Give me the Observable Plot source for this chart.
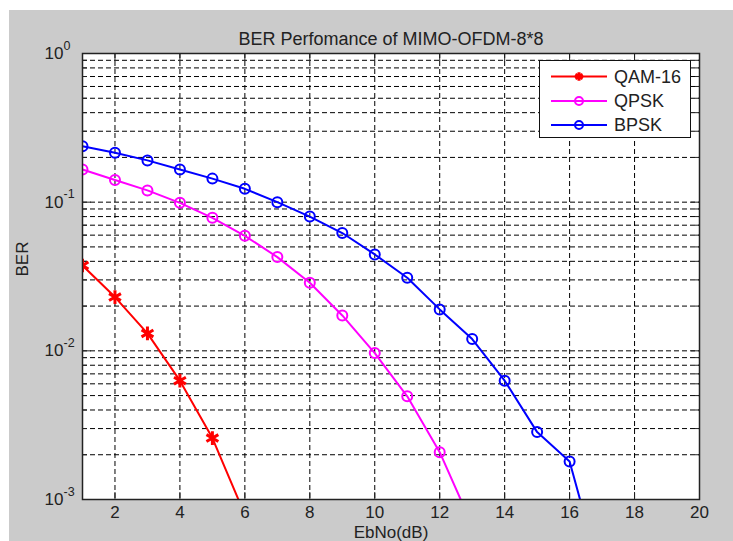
<!DOCTYPE html>
<html>
<head>
<meta charset="utf-8">
<script src="https://cdn.jsdelivr.net/npm/d3@7"></script>
<script src="https://cdn.jsdelivr.net/npm/@observablehq/plot@0.6"></script>
<style>
  html, body { margin: 0; padding: 0; background: #ffffff; }
  #wrap { position: relative; width: 733px; height: 541px; overflow: hidden; font-family: "Liberation Sans", Arial, sans-serif; }
  #bg { position: absolute; left: 9px; top: 10px; right: 0; bottom: 0; background: #cbcbcb; }
  #chart { position: absolute; left: 0; top: 0; }
  #legend { position: absolute; left: 539px; top: 60px; width: 150px; height: 76px; background: #fff; border: 1.5px solid #111; box-sizing: content-box; }
  #legend svg { display: block; }
</style>
</head>
<body>
<div id="wrap">
  <div id="bg"></div>
  <div id="chart"></div>
  <div id="legend"></div>
</div>
<script>
// ---- data ----
const ebno = [1, 2, 3, 4, 5, 6, 7, 8, 9, 10, 11, 12, 13, 14, 15, 16, 17];
const qam16 = [0.0375, 0.023, 0.0131, 0.0063, 0.00259, 0.00079];
const qpsk  = [0.166, 0.141, 0.120, 0.099, 0.0785, 0.0594, 0.0427, 0.0287, 0.0173, 0.00966, 0.00494, 0.00208, 0.00067];
const bpsk  = [0.238, 0.215, 0.191, 0.166, 0.144, 0.123, 0.100, 0.080, 0.062, 0.0445, 0.031, 0.019, 0.012, 0.0063, 0.00284, 0.0018, 0.00029];
const seriesNames  = ["QAM-16", "QPSK", "BPSK"];
const seriesColors = ["#ff0000", "#ff00ff", "#0000ff"];
const seriesSymbols = ["asterisk", "circle", "circle"];
const xTicks = [2, 4, 6, 8, 10, 12, 14, 16, 18, 20];
const xGrid = [2, 4, 6, 8, 10, 12, 14, 16, 18];
const yMajor = [0.001, 0.01, 0.1, 1];
const yExp = ["-3", "-2", "-1", "0"];
const yMinor = [0.002,0.003,0.004,0.005,0.006,0.007,0.008,0.009,
                0.02,0.03,0.04,0.05,0.06,0.07,0.08,0.09,
                0.2,0.3,0.4,0.5,0.6,0.7,0.8,0.9];
const titleText = "BER Perfomance of MIMO-OFDM-8*8";
const xLabel = "EbNo(dB)";
const yLabel = "BER";

// ---- build table ----
const seriesValues = [qam16, qpsk, bpsk];
const rows = [];
seriesNames.forEach((name, i) => {
  seriesValues[i].forEach((v, j) => rows.push({series: name, x: ebno[j], y: v}));
});
const yGridAll = yMajor.concat(yMinor);

const marks = [
  Plot.frame({fill: "#ffffff", stroke: "none"}),
  Plot.ruleY(yGridAll, {y: d => d, stroke: "#000", strokeWidth: 1, strokeDasharray: "5,3"}),
  Plot.ruleX(xGrid, {x: d => d, stroke: "#000", strokeWidth: 1, strokeDasharray: "5,3"}),
];

// inward tick marks
if (Plot.axisX) {
  marks.push(
    Plot.axisX(xTicks, {anchor: "bottom", tickSize: 7, dy: -7, fill: "none", stroke: "#222", label: null}),
    Plot.axisX(xTicks, {anchor: "top", tickSize: 7, dy: 7, fill: "none", stroke: "#222", label: null}),
    Plot.axisY(yMajor, {anchor: "left", tickSize: 9, dx: 9, fill: "none", stroke: "#222", label: null}),
    Plot.axisY(yMajor, {anchor: "right", tickSize: 9, dx: -9, fill: "none", stroke: "#222", label: null}),
    Plot.axisY(yMinor, {anchor: "left", tickSize: 5, dx: 5, fill: "none", stroke: "#222", label: null}),
    Plot.axisY(yMinor, {anchor: "right", tickSize: 5, dx: -5, fill: "none", stroke: "#222", label: null}),
    Plot.axisX(xTicks, {anchor: "bottom", tickSize: 0, tickPadding: 6, fontSize: 17, fill: "#222", label: null})
  );
}

seriesNames.forEach((name, i) => {
  const d = rows.filter(r => r.series === name);
  const star = seriesSymbols[i] === "asterisk";
  marks.push(
    Plot.line(d, {x: "x", y: "y", stroke: seriesColors[i], strokeWidth: 2, clip: true}),
    Plot.dot(d, {x: "x", y: "y", stroke: seriesColors[i], symbol: seriesSymbols[i], r: star ? 6.5 : 5, strokeWidth: star ? 3 : 2, fill: "none", clip: true})
  );
});

marks.push(
  Plot.frame({stroke: "#222", strokeWidth: 1.5}),
  // y tick labels "10" with exponent
  Plot.text(yMajor, {y: d => d, frameAnchor: "left", text: () => "10", textAnchor: "end", dx: -19, fontSize: 17, fill: "#222"}),
  Plot.text(yMajor, {y: d => d, frameAnchor: "left", text: (d, i) => yExp[i], textAnchor: "start", dx: -19, dy: -8, fontSize: 12.5, fill: "#222"}),
  Plot.text([titleText], {frameAnchor: "top", dy: -21, fontSize: 18, fill: "#222"}),
  Plot.text([xLabel], {frameAnchor: "bottom", dy: 38, fontSize: 17, fill: "#222"}),
  Plot.text([yLabel], {frameAnchor: "left", rotate: -90, dx: -60, fontSize: 17, fill: "#222"})
);

const chart = Plot.plot({
  width: 733,
  height: 541,
  marginLeft: 82,
  marginRight: 34,
  marginTop: 53,
  marginBottom: 42,
  style: {background: "transparent", fontFamily: "'Liberation Sans', Arial, sans-serif", fontSize: "17px", overflow: "visible"},
  x: {domain: [1, 20], axis: null},
  y: {type: "log", domain: [0.001, 1], axis: null},
  marks
});
document.getElementById("chart").appendChild(chart);

// ---- legend ----
const lg = d3.select("#legend").append("svg").attr("width", 150).attr("height", 76);
const rowY = [15.5, 40, 64];
seriesNames.forEach((name, i) => {
  const g = lg.append("g").attr("transform", `translate(0,${rowY[i]})`);
  g.append("line").attr("x1", 11).attr("x2", 67).attr("y1", 0).attr("y2", 0)
    .attr("stroke", seriesColors[i]).attr("stroke-width", 2);
  const star = seriesSymbols[i] === "asterisk";
  const sym = star ? d3.symbolAsterisk : d3.symbolCircle;
  g.append("path").attr("d", d3.symbol(sym, Math.PI * 16)())
    .attr("transform", "translate(39,0)")
    .attr("fill", "none").attr("stroke", seriesColors[i]).attr("stroke-width", star ? 3 : 2);
  g.append("text").attr("x", 74).attr("y", 0).attr("dy", "0.35em")
    .attr("font-size", 18).attr("fill", "#222")
    .attr("font-family", "'Liberation Sans', Arial, sans-serif")
    .text(name);
});
</script>
</body>
</html>
